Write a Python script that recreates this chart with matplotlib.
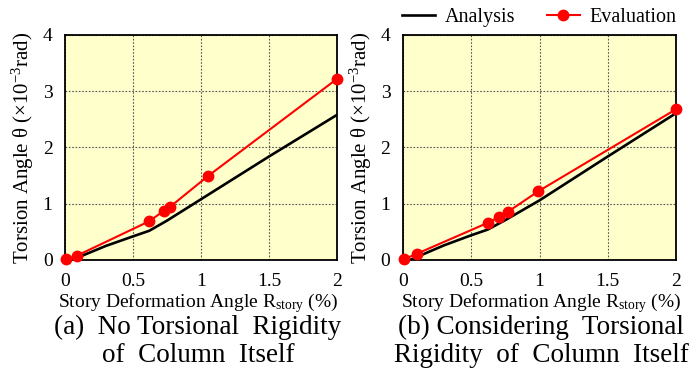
import matplotlib
matplotlib.use('Agg')
import matplotlib.pyplot as plt

# --- Data ---
ana_x = [0.05, 0.3, 0.5, 0.62, 0.75, 1.0, 1.5, 2.0]
ana_y_a = [0.0, 0.25, 0.42, 0.52, 0.70, 1.08, 1.84, 2.58]
ana_y_b = [0.0, 0.26, 0.44, 0.54, 0.71, 1.06, 1.84, 2.61]

eval_x_a = [0.01, 0.09, 0.62, 0.73, 0.77, 1.05, 2.0]
eval_y_a = [0.01, 0.08, 0.69, 0.88, 0.94, 1.49, 3.22]

eval_x_b = [0.005, 0.1, 0.62, 0.70, 0.77, 0.99, 2.0]
eval_y_b = [0.01, 0.11, 0.66, 0.76, 0.86, 1.22, 2.68]

x_ticks = [0, 0.5, 1, 1.5, 2]
x_tick_labels = ['0', '0.5', '1', '1.5', '2']
y_ticks = [0, 1, 2, 3, 4]

captions = [['(a)  No Torsional  Rigidity', 'of  Column  Itself'],
            ['(b) Considering  Torsional', 'Rigidity  of  Column  Itself']]

plt.rcParams['font.family'] = ['Liberation Serif', 'DejaVu Serif']
plt.rcParams['mathtext.fontset'] = 'custom'
plt.rcParams['mathtext.rm'] = 'Liberation Serif'
plt.rcParams['mathtext.it'] = 'Liberation Serif:italic'

fig = plt.figure(figsize=(6.96, 3.83), dpi=100)
W, H = 696, 383
# axes boxes in pixels: left, top, right, bottom
boxes = [(65, 35, 337, 260), (403, 35, 676, 260)]
text_cx = [198, 541]

series = [(ana_y_a, eval_x_a, eval_y_a), (ana_y_b, eval_x_b, eval_y_b)]

for i, (x0, y0, x1, y1) in enumerate(boxes):
    ax = fig.add_axes([x0 / W, 1 - y1 / H, (x1 - x0) / W, (y1 - y0) / H])
    ax.set_facecolor('#FFFFCC')
    ana_y, ex, ey = series[i]
    ax.plot(ana_x, ana_y, color='black', lw=1.9, label='Analysis', zorder=3)
    ax.plot(ex, ey, color='#FF0000', lw=1.5, marker='o', markersize=7.5,
            label='Evaluation', zorder=4, clip_on=False)
    ax.set_xlim(0, 2)
    ax.set_ylim(0, 4)
    ax.set_xticks(x_ticks)
    ax.set_xticklabels(x_tick_labels)
    ax.set_yticks(y_ticks)
    ax.tick_params(axis='y', length=0, labelsize=14, pad=9)
    ax.tick_params(axis='x', length=0, labelsize=14, pad=9)
    ax.grid(True, color='#555555', linestyle=(0, (1.5, 1.5)), lw=0.8)
    for s in ax.spines.values():
        s.set_linewidth(1.3)
    ax.set_ylabel('Torsion Angle θ (×10$^{-3}$rad)', fontsize=15)
    ax.yaxis.set_label_coords(-0.105, 0.5)

    cx = text_cx[i] / W
    fig.text(cx, 1 - 303 / H, r'Story Deformation Angle R$_{\mathrm{story}}$ (%)',
             ha='center', va='center', fontsize=14)
    fig.text(cx, 1 - 327 / H, captions[i][0], ha='center', va='center', fontsize=19.5)
    fig.text(cx, 1 - 356 / H, captions[i][1], ha='center', va='center', fontsize=19.5)

    if i == 1:
        ax.legend(loc='lower center', bbox_to_anchor=(0.5, 1.0), ncol=2,
                  frameon=False, fontsize=14.5, handlelength=1.6,
                  columnspacing=1.6, borderaxespad=0.0, handletextpad=0.5)

fig.savefig('out.png', dpi=100)
